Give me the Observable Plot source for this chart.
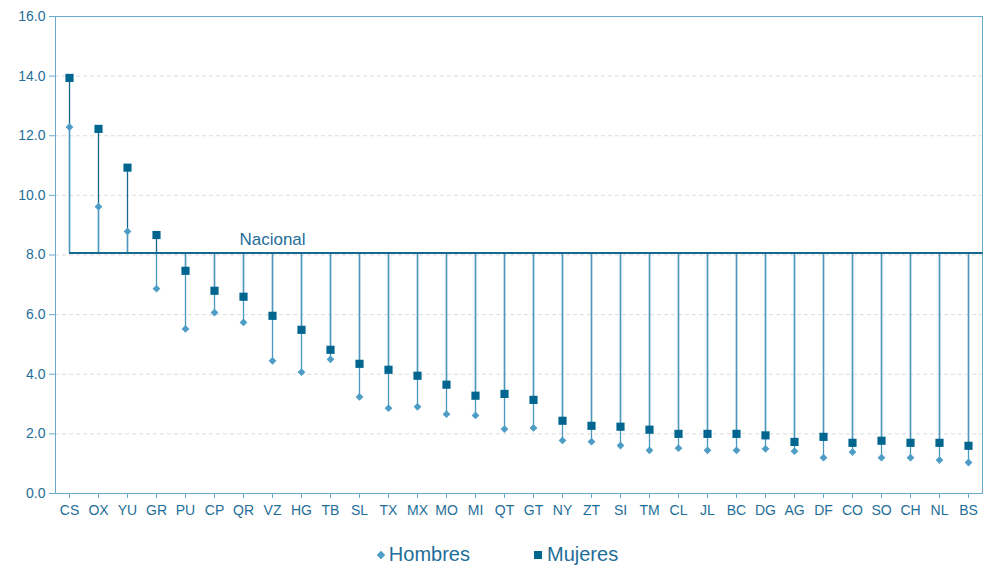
<!DOCTYPE html>
<html>
<head>
<meta charset="utf-8">
<script src="https://cdn.jsdelivr.net/npm/d3@7"></script>
<script src="https://cdn.jsdelivr.net/npm/@observablehq/plot@0.6"></script>
<style>
  html, body { margin: 0; padding: 0; background: #fff; }
  body { width: 992px; height: 571px; overflow: hidden; font-family: "Liberation Sans", Arial, sans-serif; }
  #chart svg text { fill: #1f6e98; }
  .legend { display: flex; justify-content: center; align-items: center; height: 41px; padding-top: 4px; color: #1f6e98; font-size: 20px; gap: 64px; padding-left: 4px; }
  .legend .item { display: flex; align-items: center; }
  .legend .dia { width: 6px; height: 6px; background: #4d9dc6; transform: rotate(45deg); margin-right: 5px; }
  .legend .sq { width: 8px; height: 8px; background: #00668f; margin-right: 5px; }
</style>
</head>
<body>
<div id="chart"></div>
<div class="legend">
  <div class="item"><span class="dia"></span><span>Hombres</span></div>
  <div class="item"><span class="sq"></span><span>Mujeres</span></div>
</div>
<script>
const estados = ["CS","OX","YU","GR","PU","CP","QR","VZ","HG","TB","SL","TX","MX","MO","MI","QT","GT","NY","ZT","SI","TM","CL","JL","BC","DG","AG","DF","CO","SO","CH","NL","BS"];
const hombres = [12.29,9.62,8.79,6.87,5.52,6.07,5.74,4.45,4.07,4.50,3.24,2.86,2.91,2.66,2.62,2.16,2.20,1.78,1.74,1.61,1.45,1.52,1.45,1.45,1.50,1.42,1.20,1.39,1.20,1.20,1.12,1.04];
const mujeres = [13.94,12.23,10.93,8.67,7.47,6.80,6.60,5.96,5.49,4.82,4.35,4.15,3.95,3.65,3.28,3.34,3.14,2.44,2.27,2.24,2.14,2.00,2.00,2.00,1.95,1.73,1.90,1.70,1.77,1.70,1.70,1.60];
const nacional = 8.07;
const nacionalLabel = "Nacional";
const yTicks = [0,2,4,6,8,10,12,14,16];
const gridTicks = [2,4,6,8,10,12,14];

const data = estados.map((e, i) => ({estado: e, h: hombres[i], m: mujeres[i]}));

const W = 992, mL = 55, mR = 10;
const halfBand = (W - mL - mR) / estados.length / 2;

const chart = Plot.plot({
  width: W,
  height: 530,
  marginLeft: mL,
  marginRight: mR,
  marginTop: 16,
  marginBottom: 37,
  style: {fontFamily: '"Liberation Sans", Arial, sans-serif', fontSize: "14px", color: "#6aaacb", background: "#fff"},
  x: {domain: estados, padding: 0, align: 0.5, label: null, tickSize: 5, tickPadding: 7},
  y: {domain: [0, 16], ticks: yTicks, tickFormat: d3.format(".1f"), label: null, tickSize: 6, tickPadding: 4, line: true},
  marks: [
    Plot.ruleY(gridTicks, {stroke: "#dcdcdc", strokeDasharray: "4,3"}),
    Plot.frame({stroke: "#6aaacb"}),
    Plot.ruleX(data, {x: "estado", y1: nacional, y2: "m", stroke: "#17688f", strokeWidth: 1.3}),
    Plot.ruleX(data, {x: "estado", y1: nacional, y2: "h", stroke: "#4a97c0", strokeWidth: 1.3}),
    Plot.ruleY([nacional], {x1: () => estados[0], x2: () => estados[estados.length - 1], insetRight: -halfBand, stroke: "#17688f", strokeWidth: 2}),
    Plot.dot(data, {x: "estado", y: "h", symbol: "diamond2", r: 3.5, fill: "#4d9dc6", stroke: "none"}),
    Plot.dot(data, {x: "estado", y: "m", symbol: "square", r: 4.6, fill: "#00668f", stroke: "none"}),
    Plot.text([nacionalLabel], {x: () => "VZ", y: () => nacional, dy: -13, text: d => d, fill: "#1f6e98", fontSize: 17})
  ]
});
document.getElementById("chart").appendChild(chart);
</script>
</body>
</html>
